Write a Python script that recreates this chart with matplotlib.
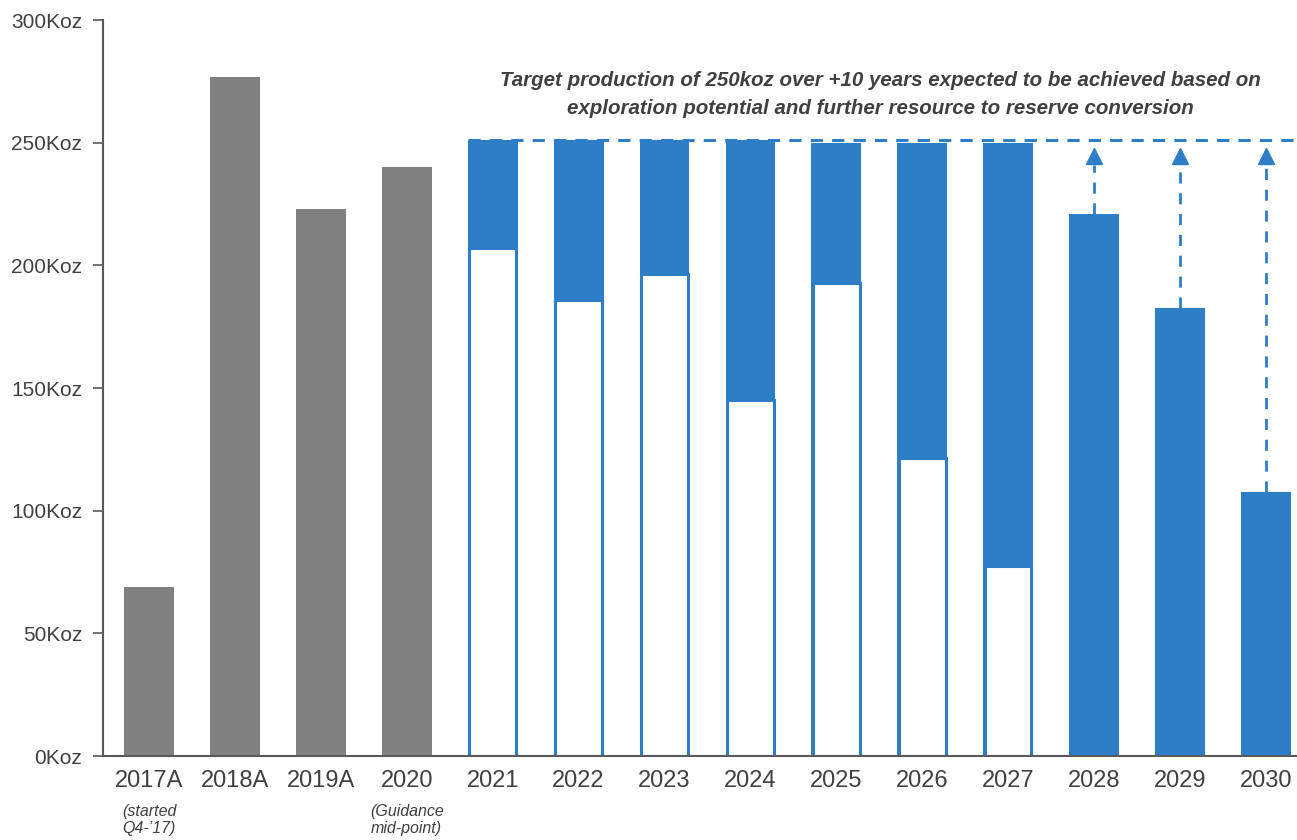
import numpy as np
import matplotlib.pyplot as plt

plt.rcParams['font.family'] = ['Liberation Sans', 'DejaVu Sans']

years = ['2017A', '2018A', '2019A', '2020', '2021', '2022', '2023',
         '2024', '2025', '2026', '2027', '2028', '2029', '2030']

# historic / guidance production (koz)
actual_years = ['2017A', '2018A', '2019A', '2020']
actual = [69, 277, 223, 240]

# life-of-mine plan: total target and the part covered by reserves
plan_years = ['2021', '2022', '2023', '2024', '2025', '2026', '2027']
plan_total = [251, 251, 251, 251, 250, 250, 250]
plan_reserve = [207, 186, 196.5, 145, 193, 121.5, 77.5]

# tail years with upside arrows to the target
tail_years = ['2028', '2029', '2030']
tail = [221, 182.5, 107.5]

target = 251
notes = {'2017A': "(started\nQ4-\u201917)", '2020': "(Guidance\nmid-point)"}

grey = '#808080'
blue = '#2E7EC7'
text_col = '#404040'

x = {y: i for i, y in enumerate(years)}
w = 0.58

fig = plt.figure(figsize=(12.97, 8.40), dpi=100)
ax = fig.add_axes([0.0794, 0.1, 0.9206, 0.876])

ax.bar([x[y] for y in actual_years], actual, width=w, color=grey)

px = [x[y] for y in plan_years]
ax.bar(px, plan_total, width=w, color=blue)
ax.bar(px, plan_reserve, width=w - 0.04, color='white', edgecolor=blue,
       linewidth=2.2)

tx = [x[y] for y in tail_years]
ax.bar(tx, tail, width=w, color=blue)

# target line across the forecast period
ax.plot([x['2021'] - w / 2, 13.5], [target, target], color=blue, lw=2.2,
        ls=(0, (4, 3)), zorder=3, clip_on=False)

# upside arrows from the tail bars to the target
for xi, v in zip(tx, tail):
    ax.plot([xi, xi], [v, 241], color=blue, lw=2, ls=(0, (4, 3.5)), zorder=3)
    ax.plot(xi, 244.5, marker='^', color=blue, markersize=12, zorder=4)

ax.text(8.51, 275.5, 'Target production of 250koz over +10 years expected to be achieved based on',
        ha='center', va='center', fontsize=14.8, fontweight='bold', style='italic',
        color=text_col)
ax.text(8.51, 264, 'exploration potential and further resource to reserve conversion',
        ha='center', va='center', fontsize=14.8, fontweight='bold', style='italic',
        color=text_col)

for y, s in notes.items():
    ax.text(x[y], -19.5, s, ha='center', va='top', fontsize=11.5, style='italic',
            color=text_col, linespacing=1.15)

ax.set_xlim(-0.535, 13.36)
ax.set_ylim(0, 300)
ax.set_yticks(np.arange(0, 301, 50))
ax.set_yticklabels([f'{v}Koz' for v in range(0, 301, 50)])
ax.set_xticks(range(len(years)))
ax.set_xticklabels(years)
ax.tick_params(axis='y', labelsize=15, colors=text_col, length=7, width=1.2,
               direction='out', pad=8)
ax.tick_params(axis='x', labelsize=17, colors=text_col, length=0, pad=10)

for s in ['top', 'right']:
    ax.spines[s].set_visible(False)
for s in ['left', 'bottom']:
    ax.spines[s].set_color('#595959')
    ax.spines[s].set_linewidth(1.5)
ax.tick_params(axis='y', color='#595959')

fig.savefig('out.png', dpi=100)
